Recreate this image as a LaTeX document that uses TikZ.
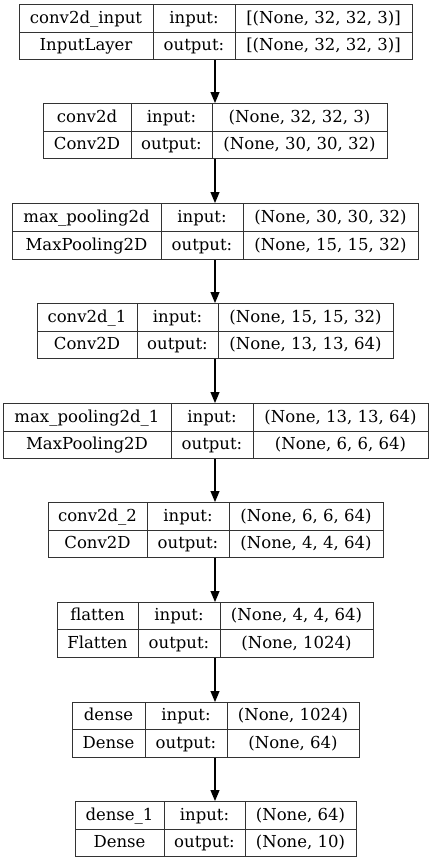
\documentclass[tikz,border=0pt]{standalone}
\usepackage{fontspec}
\setmainfont{DejaVu Serif}
\usetikzlibrary{arrows.meta}
\newcommand\layerframe[8]{%
  \node[frame, anchor=north west, minimum width={(#3-#2)*1pt}, minimum height={(#8-#6)*1pt}] (#1) at (#2,#6) {};
  \draw[cellline] (#4,#6) -- (#4,#8);
  \draw[cellline] (#5,#6) -- (#5,#8);
  \draw[cellline] (#2,#7) -- (#3,#7);
  \coordinate (#1-pa) at ({(#2+#4)/2},{(#6+#7)/2});
  \coordinate (#1-pb) at ({(#4+#5)/2},{(#6+#7)/2});
  \coordinate (#1-pc) at ({(#5+#3)/2},{(#6+#7)/2});
  \coordinate (#1-qa) at ({(#2+#4)/2},{(#7+#8)/2});
  \coordinate (#1-qb) at ({(#4+#5)/2},{(#7+#8)/2});
  \coordinate (#1-qc) at ({(#5+#3)/2},{(#7+#8)/2});
}
\newcommand\layertext[7]{%
  \node[txt] (#1-ta) at (#1-pa) {#2};
  \node[txt] (#1-tb) at (#1-pb) {#3};
  \node[txt] (#1-tc) at (#1-pc) {#4};
  \node[txt] (#1-ba) at (#1-qa) {#5};
  \node[txt] (#1-bb) at (#1-qb) {#6};
  \node[txt] (#1-bc) at (#1-qc) {#7};
}
\begin{document}
\begin{tikzpicture}[x=1pt,y=-1pt,
  frame/.style={draw=black!80, line width=1pt, inner sep=0pt},
  cellline/.style={draw=black!80, line width=1pt},
  txt/.style={font=\fontsize{16.5}{18}\selectfont, inner sep=0pt, text height=12.2pt, text depth=1.6pt},
  arr/.style={draw=black, line width=1.2pt, -{Triangle[length=11pt,width=9pt]}}]
\useasboundingbox[fill=white] (0,0) rectangle (431,860);
\coordinate (ax) at (215,0);
\layerframe{in}{19}{412}{153}{235}{4}{32}{59}
\layertext{in}{conv2d\_input}{input:}{[(None, 32, 32, 3)]}{InputLayer}{output:}{[(None, 32, 32, 3)]}
\layerframe{ca}{43}{387}{131}{212}{103}{131}{158}
\layertext{ca}{conv2d}{input:}{(None, 32, 32, 3)}{Conv2D}{output:}{(None, 30, 30, 32)}
\layerframe{ma}{12}{418}{161}{243}{203}{231}{259}
\layertext{ma}{max\_pooling2d}{input:}{(None, 30, 30, 32)}{MaxPooling2D}{output:}{(None, 15, 15, 32)}
\layerframe{cb}{37}{393}{137}{218}{303}{331}{358}
\layertext{cb}{conv2d\_1}{input:}{(None, 15, 15, 32)}{Conv2D}{output:}{(None, 13, 13, 64)}
\layerframe{mb}{3}{428}{171}{253}{403}{431}{458}
\layertext{mb}{max\_pooling2d\_1}{input:}{(None, 13, 13, 64)}{MaxPooling2D}{output:}{(None, 6, 6, 64)}
\layerframe{cc}{48}{383}{147}{229}{502}{530}{557}
\layertext{cc}{conv2d\_2}{input:}{(None, 6, 6, 64)}{Conv2D}{output:}{(None, 4, 4, 64)}
\layerframe{fl}{57}{373}{138}{220}{602}{629}{657}
\layertext{fl}{flatten}{input:}{(None, 4, 4, 64)}{Flatten}{output:}{(None, 1024)}
\layerframe{da}{72}{359}{145}{227}{702}{729}{757}
\layertext{da}{dense}{input:}{(None, 1024)}{Dense}{output:}{(None, 64)}
\layerframe{db}{75}{356}{164}{245}{801}{829}{856}
\layertext{db}{dense\_1}{input:}{(None, 64)}{Dense}{output:}{(None, 10)}
\draw[arr] (in.south -| ax) -- (ca.north -| ax);
\draw[arr] (ca.south -| ax) -- (ma.north -| ax);
\draw[arr] (ma.south -| ax) -- (cb.north -| ax);
\draw[arr] (cb.south -| ax) -- (mb.north -| ax);
\draw[arr] (mb.south -| ax) -- (cc.north -| ax);
\draw[arr] (cc.south -| ax) -- (fl.north -| ax);
\draw[arr] (fl.south -| ax) -- (da.north -| ax);
\draw[arr] (da.south -| ax) -- (db.north -| ax);
\end{tikzpicture}
\end{document}
